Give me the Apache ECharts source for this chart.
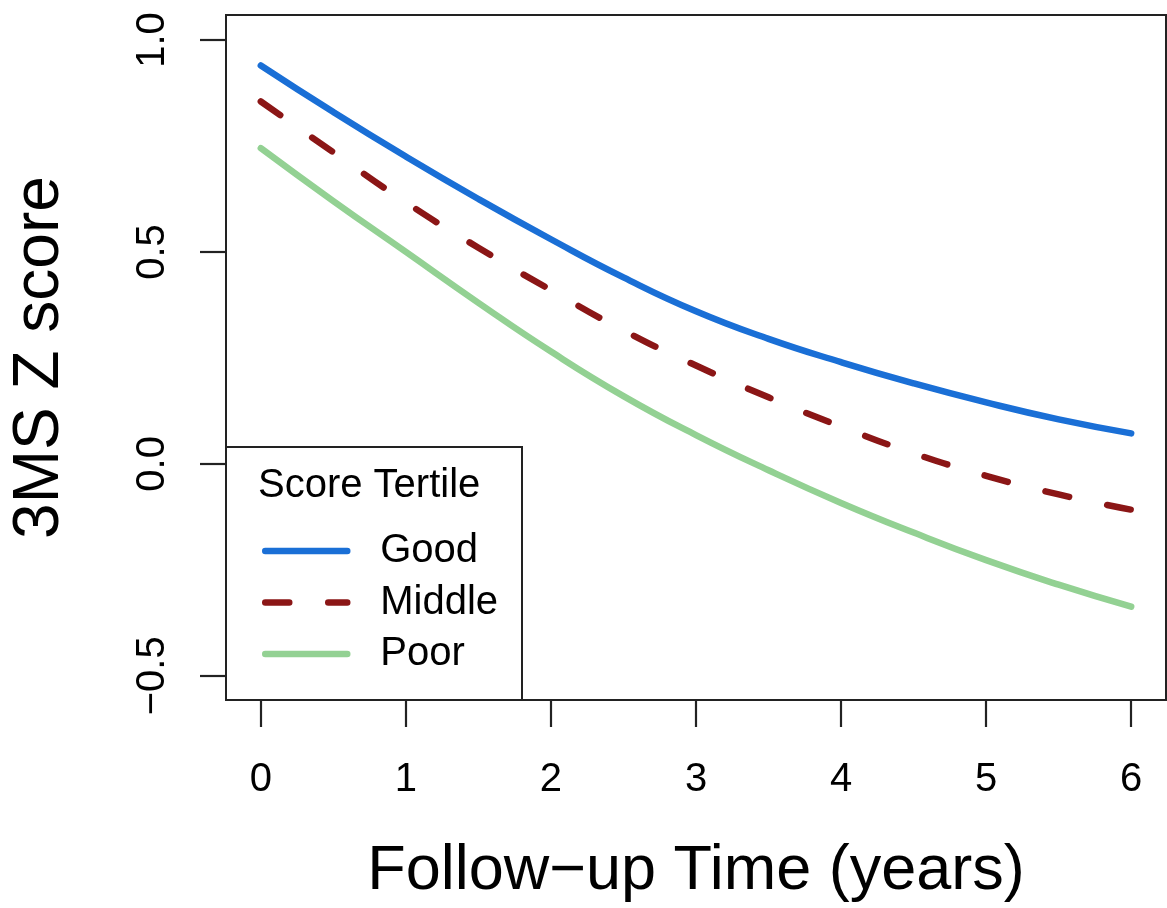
<!DOCTYPE html>
<html>
<head>
<meta charset="utf-8">
<script src="https://cdn.jsdelivr.net/npm/echarts@6/dist/echarts.min.js"></script>
<style>
  html, body { margin: 0; padding: 0; background: #fff; }
  #chart { width: 1167px; height: 908px; }
</style>
</head>
<body>
<div id="chart"></div>
<script>
// ---- data ----
const times  = [0, 0.5, 1, 1.5, 2, 2.5, 3, 3.5, 4, 4.5, 5, 5.5, 6];
const good   = [0.94, 0.83, 0.725, 0.625, 0.53, 0.44, 0.36, 0.295, 0.24, 0.19, 0.145, 0.105, 0.072];
const middle = [0.855, 0.735, 0.617, 0.51, 0.41, 0.315, 0.232, 0.157, 0.088, 0.025, -0.028, -0.072, -0.108];
const poor   = [0.745, 0.62, 0.50, 0.38, 0.265, 0.16, 0.068, -0.015, -0.092, -0.162, -0.227, -0.285, -0.337];
const seriesNames = ['Good', 'Middle', 'Poor'];
const xTicks = [0, 1, 2, 3, 4, 5, 6];
const yTicks = [-0.5, 0, 0.5, 1.0];
const xTitle = 'Follow\u2212up Time (years)';
const yTitle = '3MS Z score';
const legendTitle = 'Score Tertile';

const FONT = '"Liberation Sans", Arial, Helvetica, sans-serif';
const pair = arr => times.map((t, i) => [t, arr[i]]);

const chart = echarts.init(document.getElementById('chart'), null, { renderer: 'canvas' });

const lineBase = { width: 6.5, cap: 'round', join: 'round' };

chart.setOption({
  backgroundColor: '#ffffff',
  animation: false,
  grid: {
    left: 226, top: 15, width: 940, height: 685,
    containLabel: false, outerBoundsMode: 'none',
    show: true, borderColor: '#222', borderWidth: 2, backgroundColor: 'transparent'
  },
  xAxis: {
    type: 'value', min: -0.24, max: 6.24,
    axisLine: { show: false, onZero: false },
    splitLine: { show: false },
    axisTick: { show: true, inside: false, length: 27, customValues: xTicks,
      lineStyle: { color: '#222', width: 2.2 } },
    axisLabel: { show: true, customValues: xTicks, margin: 60,
      fontFamily: FONT, fontSize: 40, color: '#000',
      formatter: v => String(v) },
    name: xTitle, nameLocation: 'middle', nameGap: 140,
    nameTextStyle: { fontFamily: FONT, fontSize: 63, color: '#000' }
  },
  yAxis: {
    type: 'value', min: -0.557, max: 1.059,
    axisLine: { show: false, onZero: false },
    splitLine: { show: false },
    axisTick: { show: true, inside: false, length: 26, customValues: yTicks,
      lineStyle: { color: '#222', width: 2.2 } },
    axisLabel: { show: true, customValues: yTicks, margin: 53, rotate: 90,
      fontFamily: FONT, fontSize: 40, color: '#000',
      formatter: v => v.toFixed(1).replace('-', '\u2212') },
    name: yTitle, nameLocation: 'middle', nameGap: 154, nameRotate: 90,
    nameTextStyle: { fontFamily: FONT, fontSize: 64, color: '#000' }
  },
  legend: {
    show: true, orient: 'vertical', left: 262, top: 531, z: 30,
    padding: 0, itemWidth: 82, itemHeight: 14, itemGap: 11.5,
    data: seriesNames,
    textStyle: { fontFamily: FONT, fontSize: 40, color: '#000', lineHeight: 40,
      padding: [0, 0, 0, 28] },
    itemStyle: { color: 'rgba(0,0,0,0)', borderWidth: 0, opacity: 0 },
    lineStyle: { width: 6.5, cap: 'round' }
  },
  graphic: [
    { type: 'rect', z: 10, silent: true,
      shape: { x: 226, y: 447, width: 296, height: 253 },
      style: { fill: '#fff', stroke: '#222', lineWidth: 2 } },
    { type: 'text', z: 11, silent: true, left: 258, top: 466,
      style: { text: legendTitle, font: '40px ' + FONT, fill: '#000' } }
  ],
  series: [
    { name: seriesNames[0], type: 'line', data: pair(good), smooth: true, symbol: 'none',
      lineStyle: Object.assign({ color: '#1a6fd6', type: 'solid' }, lineBase),
      itemStyle: { color: '#1a6fd6' } },
    { name: seriesNames[1], type: 'line', data: pair(middle), smooth: true, symbol: 'none',
      lineStyle: Object.assign({ color: '#8b1616', type: [24, 39] }, lineBase),
      itemStyle: { color: '#8b1616' } },
    { name: seriesNames[2], type: 'line', data: pair(poor), smooth: true, symbol: 'none',
      lineStyle: Object.assign({ color: '#93d193', type: 'solid' }, lineBase),
      itemStyle: { color: '#93d193' } }
  ]
});
</script>
</body>
</html>
